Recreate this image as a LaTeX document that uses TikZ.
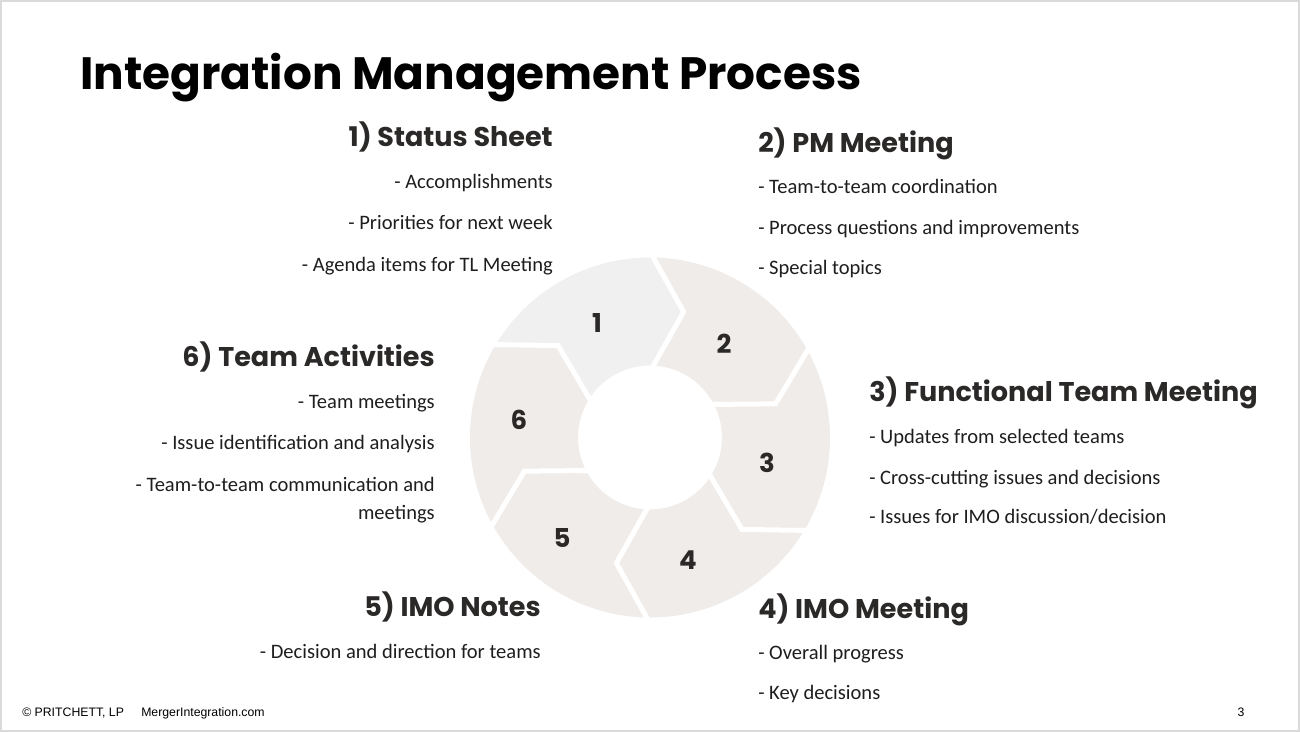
\documentclass[tikz,border=0pt]{standalone}
\usepackage{fontspec}
\setmainfont{Carlito}
\newfontfamily\hdfont{Poppins}
\newfontfamily\ftfont{Liberation Sans}
\definecolor{segA}{HTML}{F0F0F0}
\definecolor{segB}{HTML}{EFECEA}
\definecolor{headc}{HTML}{2B2828}
\definecolor{bodyc}{HTML}{1E1E1E}
\definecolor{framec}{HTML}{DADADA}
\begin{document}
\begin{tikzpicture}[x=0.75pt,y=0.75pt,
  titletext/.style={inner sep=0pt, anchor=base west, font=\hdfont\bfseries\fontsize{34}{40}\selectfont, text=black},
  headL/.style={inner sep=0pt, anchor=base west, font=\hdfont\bfseries\fontsize{20.3}{24}\selectfont, text=headc},
  headR/.style={headL, anchor=base east},
  itemL/.style={inner sep=0pt, anchor=base west, font=\fontsize{15.4}{18}\selectfont, text=bodyc},
  itemR/.style={itemL, anchor=base east},
  num/.style={inner sep=0pt, font=\hdfont\bfseries\fontsize{19.5}{23}\selectfont, text=headc},
  foot/.style={inner sep=0pt, anchor=base west, font=\ftfont\fontsize{9.2}{11}\selectfont, text=black},
  gap/.style={draw=white, line width=3.75pt, line join=miter}
]
\useasboundingbox (0,0) rectangle (1300,732);
\fill[white] (0,0) rectangle (1300,732);
\draw[framec, line width=1.5pt] (1,1) rectangle (1299,731);

% ring
\begin{scope}[shift={(650,294.5)}]
  \foreach \s/\c in {150/segA, 90/segB, 30/segB, -30/segB, -90/segB, -150/segB}{
    \pgfmathsetmacro{\e}{\s-60}
    \fill[\c] (\s:180) arc[start angle=\s, end angle=\e, radius=180]
      -- ({\e-15}:130) -- (\e:72)
      arc[start angle=\e, end angle=\s, radius=72]
      -- ({\s-15}:130) -- cycle;
  }
  \foreach \b in {90,30,-30,-90,-150,150}{
    \draw[gap] (\b:66) -- ({\b-15}:130) -- (\b:186);
  }
\end{scope}
\node[num] (n1) at (597,409) {1};
\node[num] (n2) at (724,388) {2};
\node[num] (n3) at (767,269) {3};
\node[num] (n4) at (688,172) {4};
\node[num] (n5) at (562,194) {5};
\node[num] (n6) at (519,312) {6};

% title
\node[titletext] (title) at (80,642) {Integration Management Process};

% 1
\node[headR] (h1) at (553,585) {1) Status Sheet};
\node[itemR] (i11) at (553,543.7) {- Accomplishments};
\node[itemR] (i12) at (553,502) {- Priorities for next week};
\node[itemR] (i13) at (553,460.3) {- Agenda items for TL Meeting};

% 2
\node[headL] (h2) at (758,579.7) {2) PM Meeting};
\node[itemL] (i21) at (758,538.7) {- Team-to-team coordination};
\node[itemL] (i22) at (758,497) {- Process questions and improvements};
\node[itemL] (i23) at (758,457) {- Special topics};

% 6
\node[headR] (h6) at (435,365.3) {6) Team Activities};
\node[itemR] (i61) at (435,323.7) {- Team meetings};
\node[itemR] (i62) at (435,282) {- Issue identification and analysis};
\node[itemR] (i63) at (435,240.3) {- Team-to-team communication and};
\node[itemR] (i64) at (435,212) {meetings};

% 3
\node[headL] (h3) at (869,330.3) {3) Functional Team Meeting};
\node[itemL] (i31) at (869,288.7) {- Updates from selected teams};
\node[itemL] (i32) at (869,247) {- Cross-cutting issues and decisions};
\node[itemL] (i33) at (869,208.7) {- Issues for IMO discussion/decision};

% 5
\node[headR] (h5) at (541,115) {5) IMO Notes};
\node[itemR] (i51) at (541,73.7) {- Decision and direction for teams};

% 4
\node[headL] (h4) at (758,113) {4) IMO Meeting};
\node[itemL] (i41) at (758,72) {- Overall progress};
\node[itemL] (i42) at (758,32) {- Key decisions};

% footer
\node[foot] (f1) at (22,15.3) {© PRITCHETT, LP};
\node[foot] (f2) at (141,15.3) {MergerIntegration.com};
\node[foot, anchor=base] (f3) at (1241,15.3) {3};
\end{tikzpicture}
\end{document}
